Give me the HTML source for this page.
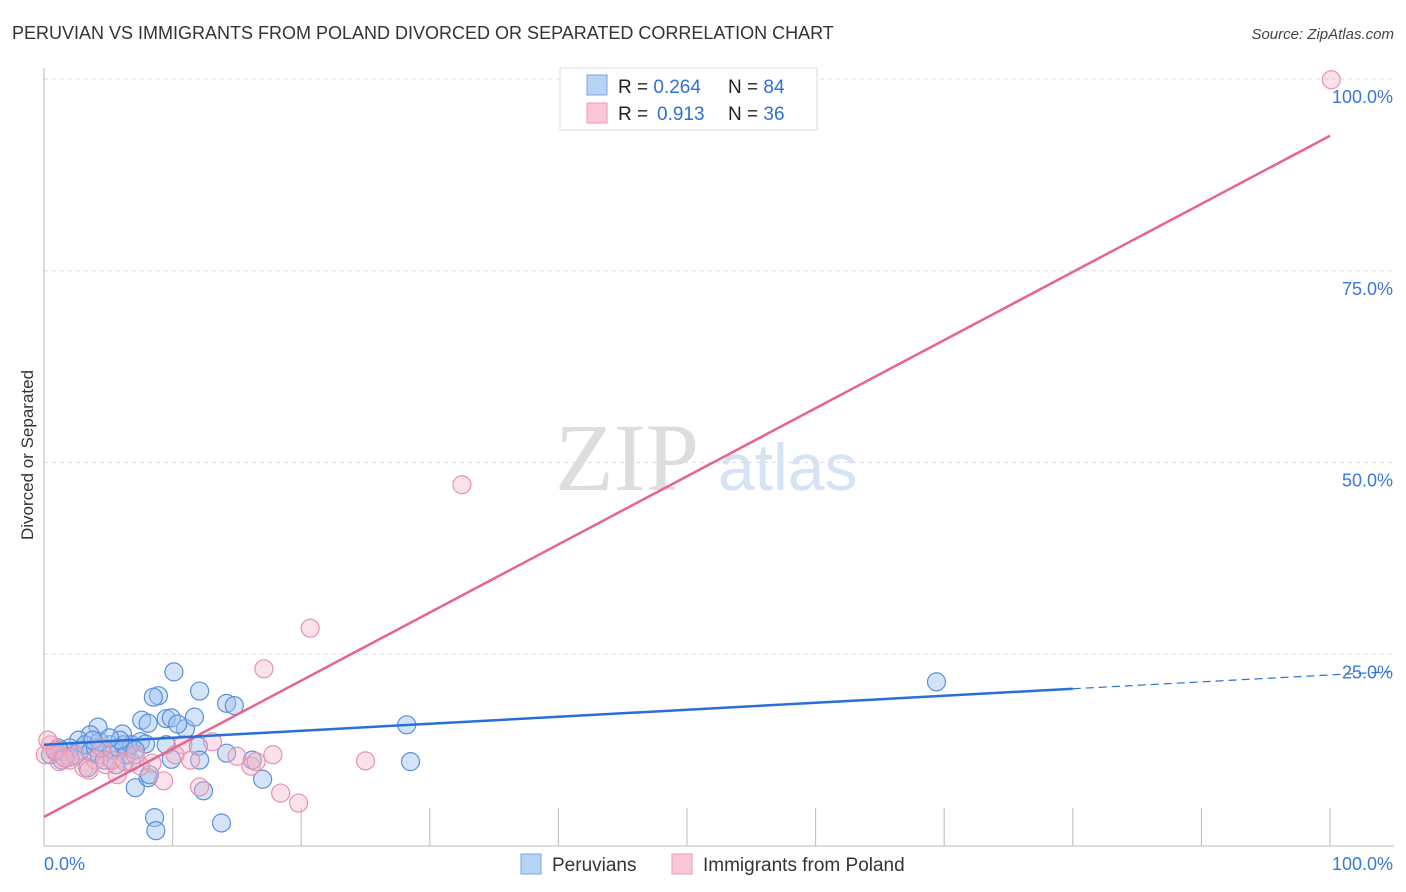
<!DOCTYPE html>
<html><head><meta charset="utf-8"><style>
body{margin:0;background:#fff;font-family:"Liberation Sans",sans-serif;}
svg{display:block}
</style></head><body>
<svg id="chart" width="1406" height="892" viewBox="0 0 1406 892" xmlns="http://www.w3.org/2000/svg">
<text x="12" y="39" font-size="18" fill="#333">PERUVIAN VS IMMIGRANTS FROM POLAND DIVORCED OR SEPARATED CORRELATION CHART</text>
<text x="1394" y="39" font-size="15" fill="#444" text-anchor="end" font-style="italic">Source: ZipAtlas.com</text>
<text transform="translate(33,455) rotate(-90)" font-size="17" fill="#333" text-anchor="middle">Divorced or Separated</text>
<text x="555" y="490" font-size="96" fill="#ddd" font-family="Liberation Serif,serif">ZIP</text>
<text x="718" y="490" font-size="66" fill="#d5e3f5">atlas</text>
<g id="grid"></g>
<g id="marks"></g>
<g id="lines"></g>
<g>
<rect x="560" y="68" width="257" height="62" fill="#fff" stroke="#ddd"/>
<rect x="587" y="75" width="20" height="20" fill="#b7d3f5" stroke="#7aa6e0"/>
<rect x="587" y="103" width="20" height="20" fill="#fac7d6" stroke="#ee9ab4"/>
<text x="618" y="93" font-size="19" fill="#222">R = <tspan fill="#2f6fd6">0.264</tspan><tspan x="728">N = </tspan><tspan fill="#2f6fd6">84</tspan></text>
<text x="618" y="120" font-size="19" fill="#222">R = <tspan x="657" fill="#2f6fd6">0.913</tspan><tspan x="728">N = </tspan><tspan fill="#2f6fd6">36</tspan></text>
</g>
<g>
<rect x="521" y="854" width="20" height="20" fill="#b7d3f5" stroke="#7aa6e0"/>
<text x="552" y="871" font-size="19" fill="#333">Peruvians</text>
<rect x="672" y="854" width="20" height="20" fill="#fac7d6" stroke="#ee9ab4"/>
<text x="703" y="871" font-size="19" fill="#333">Immigrants from Poland</text>
</g>
</svg>
<script>
const yTicks=[25,50,75,100];
const yTickLabels=["25.0%","50.0%","75.0%","100.0%"];
const xTicks=[10,20,30,40,50,60,70,80,90,100];
const blueX=[10.1,8.9,8.5,12.1,14.2,14.8,7.6,9.5,9.9,11.0,11.7,10.4,8.1,4.2,6.1,3.6,2.7,5.1,7.1,8.1,8.2,8.6,8.7,13.8,17.0,12.4,28.2,28.5,69.4,14.2,12.0,9.9,9.5,6.8,6.5,16.2,12.1,0.5,0.9,1.2,1.6,2.0,2.4,2.8,3.2,3.6,4.0,4.3,4.7,5.3,5.8,6.2,6.4,6.8,5.6,3.4,1.4,7.5,7.9,7.1,5.9,1.1,2.0,4.3,5.1,3.8];
const blueY=[22.7,19.6,19.4,20.2,18.6,18.3,16.4,16.6,16.7,15.3,16.8,15.9,16.0,15.5,14.6,14.5,13.8,13.2,7.6,8.9,9.3,3.7,2.0,3.0,8.7,7.2,15.8,11.0,21.4,12.1,13.0,11.3,13.2,11.0,12.8,11.2,11.2,11.9,12.3,12.5,12.3,12.8,11.9,12.5,13.2,12.3,12.8,11.9,11.2,12.5,12.8,13.2,11.9,13.2,10.6,10.2,11.2,13.6,13.3,12.5,13.8,12.8,11.6,13.6,14.1,13.8];
const pinkX=[100.1,32.5,20.7,17.1,25.0,17.8,18.4,19.8,16.1,16.5,15.0,13.1,12.1,11.4,10.8,9.3,8.4,5.7,3.1,1.2,0.5,0.1,2.0,4.0,4.8,5.3,6.3,7.5,0.9,2.4,1.6,3.5,7.1,10.2,4.5,0.3];
const pinkY=[99.9,47.1,28.4,23.1,11.1,11.9,6.9,5.6,10.4,11.0,11.7,13.6,7.7,11.2,13.2,8.5,10.8,9.3,10.2,11.0,13.2,11.9,11.2,11.2,10.6,11.2,11.0,10.4,12.5,11.9,11.5,9.9,11.9,11.9,12.8,13.8];
const blueTrendX=[0,80,100];
const blueTrendY=[13.2,20.5,22.3];
const pinkTrendX=[0,100];
const pinkTrendY=[3.8,92.6];
const X0=44,X1=1330,Y0=846,Y100=79;
const sx=v=>X0+(X1-X0)*v/100;
const sy=v=>Y0-(Y0-Y100)*v/100;
const NS="http://www.w3.org/2000/svg";
function mk(tag,attrs,parent){const e=document.createElementNS(NS,tag);for(const k in attrs)e.setAttribute(k,attrs[k]);parent.appendChild(e);return e;}
const grid=document.getElementById('grid');
yTicks.forEach((t,i)=>{
  const l=mk('line',{x1:X0,x2:1394,y1:sy(t),y2:sy(t),stroke:'#ddd','stroke-dasharray':'4,4'},grid);
  
  
  const tx=mk('text',{x:1393,y:sy(t)+24,'font-size':18,fill:'#3a78d8','text-anchor':'end'},grid);
  tx.textContent=yTickLabels[i];
  
  
});
const ya=mk('line',{x1:X0,x2:X0,y1:68,y2:Y0,stroke:'#bbb'},grid);


const xa=mk('line',{x1:X0,x2:1394,y1:Y0,y2:Y0,stroke:'#bbb'},grid);


xTicks.forEach(t=>{
  const l=mk('line',{x1:sx(t),x2:sx(t),y1:808,y2:Y0,stroke:'#bbb'},grid);
  
  
});
const xl0=mk('text',{x:44,y:870,'font-size':18,fill:'#3a78d8'},grid);xl0.textContent='0.0%';


const xl1=mk('text',{x:1393,y:870,'font-size':18,fill:'#3a78d8','text-anchor':'end'},grid);xl1.textContent='100.0%';


const marks=document.getElementById('marks');
blueX.forEach((v,i)=>{
  const c=mk('circle',{cx:sx(v),cy:sy(blueY[i]),r:9,fill:'rgba(160,196,240,0.45)',stroke:'#5b8fdc','stroke-width':1.2},marks);
  
  
});
pinkX.forEach((v,i)=>{
  const c=mk('circle',{cx:sx(v),cy:sy(pinkY[i]),r:9,fill:'rgba(245,180,200,0.4)',stroke:'#e892ae','stroke-width':1.2},marks);
  
  
});
const lines=document.getElementById('lines');
const pl=mk('line',{x1:sx(pinkTrendX[0]),y1:sy(pinkTrendY[0]),x2:sx(pinkTrendX[1]),y2:sy(pinkTrendY[1]),stroke:'#e8638f','stroke-width':2.5},lines);


const bl=mk('line',{x1:sx(blueTrendX[0]),y1:sy(blueTrendY[0]),x2:sx(blueTrendX[1]),y2:sy(blueTrendY[1]),stroke:'#2a6fd8','stroke-width':2.5},lines);


const bd=mk('line',{x1:sx(blueTrendX[1]),y1:sy(blueTrendY[1]),x2:1390,y2:sy(blueTrendY[1]+(blueTrendY[2]-blueTrendY[1])*(((1390-X0)/(X1-X0)*100)-blueTrendX[1])/(blueTrendX[2]-blueTrendX[1])),stroke:'#2a6fd8','stroke-width':1.2,'stroke-dasharray':'8,5'},lines);


</script>
</body></html>
